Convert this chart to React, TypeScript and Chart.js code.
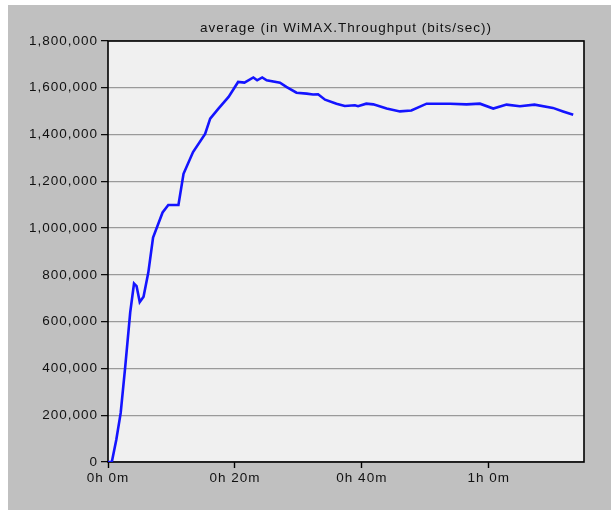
import React, { useEffect, useRef } from "react";
import { Chart, registerables } from "chart.js";

Chart.register(...registerables);

const TITLE = "average (in WiMAX.Throughput (bits/sec))";

// time in minutes
const TIMES = [
  0, 0.6, 1.3, 2.0, 2.7, 3.5, 4.1, 4.5, 5.0, 5.6, 6.35, 7.1, 8.6, 9.5, 11.1,
  11.9, 13.4, 15.3, 16.1, 17.4, 19.0, 20.5, 21.5, 22.9, 23.5, 24.3, 25.0, 27.1,
  28.1, 29.7, 31.3, 32.3, 33.1, 34.2, 36.0, 37.3, 38.9, 39.4, 40.7, 41.8, 43.9,
  46.0, 47.8, 50.2, 53.9, 56.5, 58.6, 60.7, 62.8, 64.9, 67.2, 70.1, 71.7, 73.3,
];

// average throughput (bits/sec)
const THROUGHPUT = [
  0, 0, 94000, 210000, 403000, 640000, 763000, 752000, 684000, 707000, 810000,
  960000, 1067000, 1099000, 1099000, 1232000, 1325000, 1403000, 1468000,
  1511000, 1561000, 1625000, 1622000, 1644000, 1632000, 1644000, 1632000,
  1622000, 1604000, 1579000, 1575000, 1571000, 1572000, 1549000, 1532000,
  1522000, 1525000, 1521000, 1532000, 1529000, 1511000, 1499000, 1503000,
  1532000, 1532000, 1529000, 1532000, 1511000, 1528000, 1521000, 1528000,
  1514000, 1499000, 1485000,
];

const X_TICKS = [0, 20, 40, 60];
const X_TICK_LABELS = ["0h 0m", "0h 20m", "0h 40m", "1h 0m"];

const FONT_FAMILY = "'Liberation Sans', Arial, sans-serif";
const FONT_SIZE = 13.5;

export default function App() {
  const ref = useRef<HTMLCanvasElement | null>(null);

  useEffect(() => {
    const canvas = ref.current;
    if (!canvas) return;

    const setSpacing = (c: any) => {
      try {
        c.ctx.letterSpacing = "1px";
      } catch (e) {}
    };

    const decor = {
      id: "decor",
      beforeUpdate(c: any) {
        setSpacing(c);
      },
      beforeLayout(c: any) {
        setSpacing(c);
      },
      beforeDraw(c: any) {
        setSpacing(c);
        const { ctx, chartArea } = c;
        ctx.save();
        ctx.fillStyle = "#f0f0f0";
        ctx.fillRect(
          chartArea.left,
          chartArea.top,
          chartArea.right - chartArea.left,
          chartArea.bottom - chartArea.top
        );
        ctx.restore();
      },
      beforeDatasetsDraw(c: any) {
        const { ctx, chartArea } = c;
        ctx.save();
        ctx.strokeStyle = "#000";
        ctx.lineWidth = 1.6;
        ctx.strokeRect(
          chartArea.left,
          chartArea.top,
          chartArea.right - chartArea.left,
          chartArea.bottom - chartArea.top
        );
        ctx.restore();
      },
      afterDraw(c: any) {
        const { ctx, chartArea } = c;
        ctx.save();
        setSpacing(c);
        ctx.font = `${FONT_SIZE}px ${FONT_FAMILY}`;
        ctx.fillStyle = "#111";
        ctx.textAlign = "center";
        ctx.textBaseline = "middle";
        ctx.fillText(TITLE, (chartArea.left + chartArea.right) / 2, 23);
        ctx.restore();
      },
    };

    const chart = new Chart(canvas, {
      type: "line",
      data: {
        datasets: [
          {
            data: TIMES.map((t, i) => ({ x: t, y: THROUGHPUT[i] })),
            borderColor: "#1414ff",
            borderWidth: 2.6,
            pointRadius: 0,
            tension: 0,
            fill: false,
          },
        ],
      },
      options: {
        animation: false,
        responsive: false,
        maintainAspectRatio: false,
        layout: { padding: { top: 36, right: 27, left: 0, bottom: 0 } },
        plugins: {
          legend: { display: false },
          title: { display: false },
          tooltip: { enabled: false },
        },
        scales: {
          x: {
            type: "linear",
            min: 0,
            max: 75,
            afterBuildTicks(axis: any) {
              axis.ticks = X_TICKS.map((v) => ({ value: v }));
            },
            afterFit(axis: any) {
              axis.height = 48;
            },
            border: { display: false },
            grid: {
              drawOnChartArea: false,
              drawTicks: true,
              tickLength: 6,
              tickColor: "#000",
              tickWidth: 1.4,
            },
            ticks: {
              autoSkip: false,
              maxRotation: 0,
              padding: 2,
              color: "#111",
              font: { family: FONT_FAMILY, size: FONT_SIZE },
              callback: (v: any) => {
                const i = X_TICKS.indexOf(Number(v));
                return i >= 0 ? X_TICK_LABELS[i] : "";
              },
            },
          },
          y: {
            type: "linear",
            min: 0,
            max: 1800000,
            afterFit(axis: any) {
              axis.width = 100;
            },
            border: { display: false },
            grid: {
              color: "#9a9a9a",
              lineWidth: 1.3,
              drawTicks: true,
              tickLength: 7,
              tickColor: "#000",
              tickWidth: 1.2,
            },
            ticks: {
              stepSize: 200000,
              padding: 3,
              color: "#111",
              font: { family: FONT_FAMILY, size: FONT_SIZE },
              callback: (v: any) => Number(v).toLocaleString("en-US"),
            },
          },
        },
      },
      plugins: [decor],
    });

    return () => chart.destroy();
  }, []);

  return (
    <div
      style={{
        position: "absolute",
        left: 8,
        top: 5,
        width: 603,
        height: 505,
        background: "#c0c0c0",
      }}
    >
      <canvas ref={ref} width={603} height={505} style={{ display: "block" }} />
    </div>
  );
}
